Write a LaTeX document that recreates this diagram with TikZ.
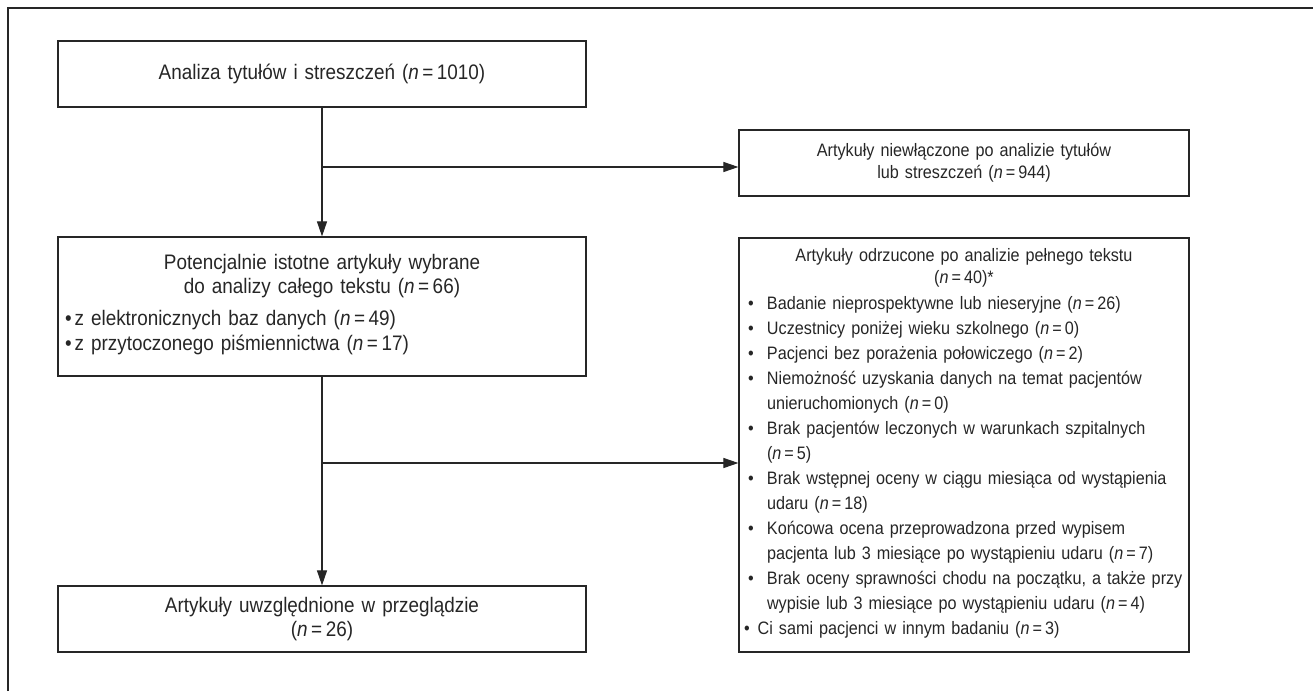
\documentclass[tikz,border=0pt]{standalone}
\usepackage{fontspec}
\setmainfont{Liberation Sans}[FakeStretch=0.9]
\usetikzlibrary{arrows.meta}

% liczebnosc i punktor
\newcommand{\nn}[1]{(\textit{n}\,=\,#1)}
\newcommand{\pkt}{\textbullet}

\begin{document}
\begin{tikzpicture}[x=1pt, y=-1pt, >={Triangle[length=15pt, width=10pt]},
  ramka/.style={line width=1.2pt, black!85},
  pole/.style={draw=black!85, line width=1.2pt, inner sep=0pt, text=black!85,
    font=\fontsize{18}{22}\selectfont},
  lewe/.style={pole, minimum width=528pt, font=\fontsize{21}{24}\selectfont},
  prawe/.style={pole, minimum width=450pt},
  strzalka/.style={->, line width=1.1pt, black!85}]
  \useasboundingbox (0,0) rectangle (1313,691);
  % Ramka (tylko lewa i gorna krawedz)
  \draw[ramka] (8,691) -- (8,8) -- (1313,8);
  % Lewa kolumna
  \node[lewe, minimum height=66pt, text width=500pt, align=center]
    (analiza) at (322,74) {Analiza tytułów i streszczeń \nn{1010}};
  \node[lewe, minimum height=139pt, text width=520pt]
    (potenc) at (322,306.5) {%
    {\centering Potencjalnie istotne artykuły wybrane\\ do analizy całego tekstu \nn{66}\par}
    \vspace{9pt}\noindent
    \renewcommand{\arraystretch}{1.04}%
    \begin{tabular}{@{\hspace{3pt}}l@{\hspace{3pt}}l@{}}
      \pkt & z elektronicznych baz danych \nn{49}\\
      \pkt & z przytoczonego piśmiennictwa \nn{17}
    \end{tabular}};
  \node[lewe, minimum height=66pt, text width=500pt, align=center]
    (uwzgl) at (322,619) {Artykuły uwzględnione w przeglądzie\\ \nn{26}};
  % Prawa kolumna
  \node[prawe, minimum height=66pt, text width=430pt, align=center]
    (niewl) at (964,163) {Artykuły niewłączone po analizie tytułów\\ lub streszczeń \nn{944}};
  \node[prawe, minimum height=414pt, text width=440pt]
    (odrz) at (964,445) {%
    {\centering Artykuły odrzucone po analizie pełnego tekstu\\ \nn{40}*\par}
    \vspace{4pt}\noindent
    \renewcommand{\arraystretch}{1.136}%
    \begin{tabular}{@{\hspace{4pt}}p{19pt}@{}l@{}}
      \pkt & Badanie nieprospektywne lub nieseryjne \nn{26}\\
      \pkt & Uczestnicy poniżej wieku szkolnego \nn{0}\\
      \pkt & Pacjenci bez porażenia połowiczego \nn{2}\\
      \pkt & Niemożność uzyskania danych na temat pacjentów\\
           & unieruchomionych \nn{0}\\
      \pkt & Brak pacjentów leczonych w warunkach szpitalnych\\
           & \nn{5}\\
      \pkt & Brak wstępnej oceny w ciągu miesiąca od wystąpienia\\
           & udaru \nn{18}\\
      \pkt & Końcowa ocena przeprowadzona przed wypisem\\
           & pacjenta lub 3 miesiące po wystąpieniu udaru \nn{7}\\
      \pkt & Brak oceny sprawności chodu na początku, a także przy\\
           & wypisie lub 3 miesiące po wystąpieniu udaru \nn{4}\\
      \multicolumn{2}{@{}l@{}}{\pkt\hspace{8pt}Ci sami pacjenci w innym badaniu \nn{3}}
    \end{tabular}};
  % Polaczenia
  \draw[strzalka] (analiza) -- (potenc);
  \coordinate (w1) at (322,167);
  \draw[strzalka] (w1) -- (w1 -| niewl.west);
  \draw[strzalka] (potenc) -- (uwzgl);
  \coordinate (w2) at (322,463);
  \draw[strzalka] (w2) -- (w2 -| odrz.west);
\end{tikzpicture}
\end{document}
